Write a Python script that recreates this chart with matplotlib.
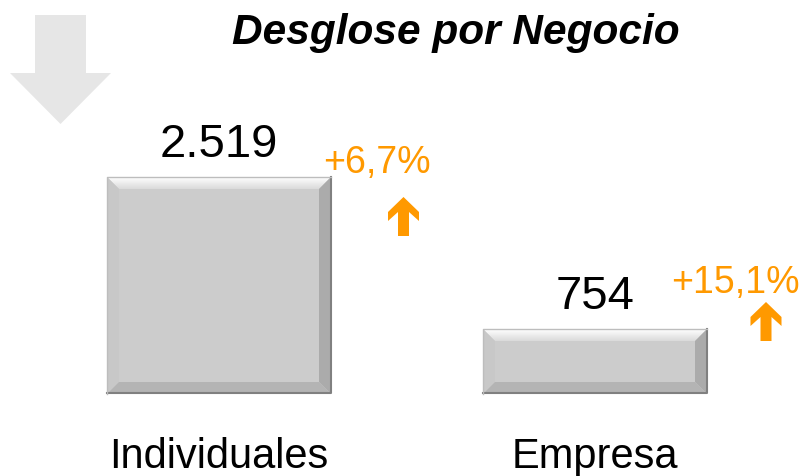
import matplotlib
matplotlib.use("Agg")
import matplotlib.pyplot as plt
import numpy as np
from matplotlib.patches import Polygon
from matplotlib.transforms import IdentityTransform

plt.rcParams['font.family'] = ['Liberation Sans', 'DejaVu Sans']

# datos
categorias = ["Individuales", "Empresa"]
valores = [2519, 754]
etiquetas = ["2.519", "754"]
variaciones = ["+6,7%", "+15,1%"]

W, H = 801, 476
fig = plt.figure(figsize=(W / 100, H / 100), dpi=100)
ax = fig.add_axes([0, 0, 1, 1])
ax.axis("off")

# escala: 217 px = 2519, base de barras en y=394 px, centros en x=219 y 595 px
escala = 2519 / 217
ax.set_ylim(-(H - 394) * escala, 394 * escala)
ax.set_xlim(-219 / 376, (W - 219) / 376)

barras = ax.bar(range(len(valores)), valores, width=224 / 376, color="#cccccc",
                edgecolor="none", zorder=2)

ident = IdentityTransform()


def poly(pts, color, z=3):
    p = Polygon(pts, closed=True, facecolor=color, edgecolor="none",
                transform=ident, zorder=z)
    fig.add_artist(p)
    return p


def px(x, y):
    # coordenadas de pixel con origen arriba-izquierda
    return (x, H - y)


# biseles de las barras
b = 12
for r in barras:
    bb = r.get_window_extent()
    x0, y0, x1, y1 = bb.x0, bb.y0, bb.x1, bb.y1
    poly([(x0, y0), (x0, y1), (x0 + b, y1 - b), (x0 + b, y0 + b)], "#c8c8c8")
    poly([(x1, y0), (x1, y1), (x1 - b, y1 - b), (x1 - b, y0 + b)], "#ababab")
    poly([(x0, y0), (x1, y0), (x1 - b, y0 + b), (x0 + b, y0 + b)], "#b4b4b4")
    top = poly([(x0, y1), (x1, y1), (x1 - b, y1 - b), (x0 + b, y1 - b)], "none")
    grad = np.linspace(0, 1, 50).reshape(-1, 1)
    im = ax.imshow(grad, cmap=matplotlib.colors.LinearSegmentedColormap.from_list(
        "g", ["#dadada", "#ffffff"]), extent=[x0, x1, y1 - b, y1], origin="lower",
        aspect="auto", transform=ident, zorder=3)
    im.set_clip_path(top)
    # bordes oscuros
    fig.add_artist(plt.Line2D([x0, x1, x1], [y0 + 1, y0 + 1, y1], color="#808080",
                              lw=1.5, transform=ident, zorder=4))
    fig.add_artist(plt.Line2D([x0, x0, x1], [y0, y1, y1], color="#bdbdbd",
                              lw=1, transform=ident, zorder=4))

# etiquetas de valor
for i, r in enumerate(barras):
    ax.annotate(etiquetas[i], (r.get_x() + r.get_width() / 2, r.get_height()),
                xytext=(0, 20), textcoords="offset pixels", ha="center",
                va="baseline", fontsize=34, color="black")

# variaciones en naranja
naranja = "#ff9900"
pos_txt = [(377, 173), (735, 293)]
pos_flecha = [(403.5, 197), (766, 302)]
for i in range(len(variaciones)):
    tx, ty = pos_txt[i]
    fig.text(tx / W, 1 - ty / H, variaciones[i], ha="center", va="baseline",
             fontsize=27, color=naranja)
    fx, fy = pos_flecha[i]
    pts = [(0, 0), (15.5, 15), (15.5, 24), (5.5, 15), (5.5, 39), (-5.5, 39),
           (-5.5, 15), (-15.5, 24), (-15.5, 15)]
    poly([px(fx + dx, fy + dy) for dx, dy in pts], naranja)

# categorias
for i, r in enumerate(barras):
    ax.annotate(categorias[i], (r.get_x() + r.get_width() / 2, 0),
                xytext=(0, -74), textcoords="offset pixels", ha="center",
                va="baseline", fontsize=30, color="black")

# flecha gris decorativa
gris = [(35, 15), (86, 15), (86, 73), (111, 73), (60.5, 124), (10, 73), (35, 73)]
poly([px(x, y) for x, y in gris], "#e6e6e6", z=1)

# titulo
fig.text(456 / W, 1 - 44 / H, "Desglose por Negocio", ha="center", va="baseline",
         fontsize=30.5, fontweight="bold", fontstyle="italic", color="black")

fig.savefig("out.png", dpi=100)
